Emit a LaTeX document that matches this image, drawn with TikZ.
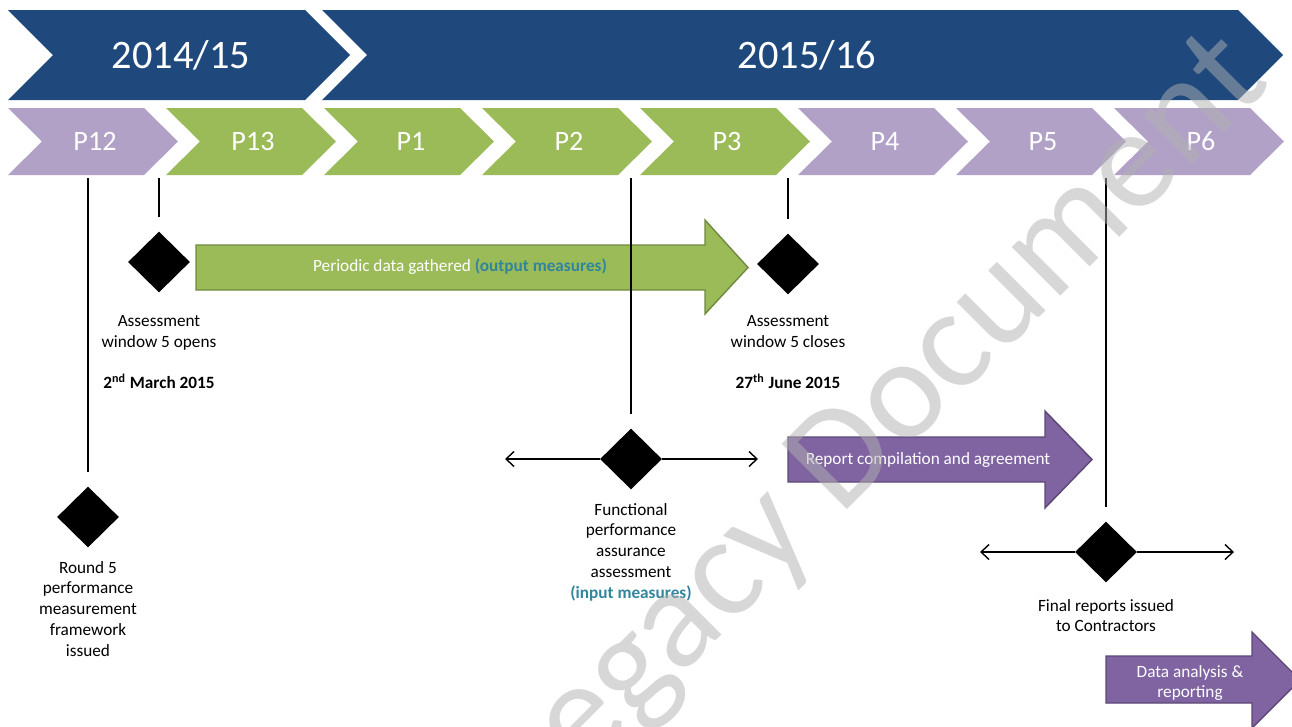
\documentclass[tikz,border=0pt]{standalone}
\usepackage{fontspec}
\setmainfont{Carlito}
\usetikzlibrary{shapes.geometric,arrows.meta,positioning}

\definecolor{yearblue}{RGB}{31,73,125}
\definecolor{lilac}{RGB}{178,161,199}
\definecolor{leaf}{RGB}{155,187,89}
\definecolor{leafdark}{RGB}{113,137,63}
\definecolor{plum}{RGB}{128,100,162}
\definecolor{plumdark}{RGB}{92,71,118}
\definecolor{measureteal}{RGB}{49,133,156}

\tikzset{
  year/.style={text=white, font=\fontsize{23}{28}\selectfont},
  period/.style={text=white, font=\fontsize{16}{19}\selectfont, minimum height=1.34cm},
  milestone/.style={diamond, fill=black, inner sep=0pt, minimum width=1.24cm, minimum height=1.22cm},
  note/.style={align=center, font=\fontsize{9.8}{11.9}\selectfont},
  stem/.style={line width=0.8pt, shorten <=0.06cm, shorten >=0.28cm},
  span/.style={line width=0.8pt, -{Straight Barb[length=0.16cm,width=0.3cm]}},
  block/.style={line width=0.8pt},
}

\begin{document}
\begin{tikzpicture}[x=0.02cm, y=-0.02cm]
  \clip (0,0) rectangle (1292,727);

  % financial years
  \fill[yearblue] (8,10) -- (305,10) -- (350,55) -- (305,100) -- (8,100) -- (53,55) -- cycle;
  \fill[yearblue] (322,10) -- (1238,10) -- (1283,55) -- (1238,100) -- (322,100) -- (367,55) -- cycle;
  \node[year] (y1415) at (181,55) {2014/15};
  \node[year] (y1516) at (807,55) {2015/16};

  % periods
  \foreach \k/\p/\col in {0/12/lilac,1/13/leaf,2/1/leaf,3/2/leaf,4/3/leaf,5/4/lilac,6/5/lilac,7/6/lilac}{
    \pgfmathsetmacro\L{8+158*\k}
    \fill[\col] (\L,108) -- ++(136,0) -- ++(34,33.5) -- ++(-34,33.5) -- ++(-136,0) -- ++(34,-33.5) -- cycle;
    \node[period] (p\p) at (\L+87,141.5) {P\p};
  }

  % block arrows
  \filldraw[block, fill=leaf, draw=leafdark] (196,245) -- (705,245) -- (705,220) -- (748,267.5) -- (705,314) -- (705,290) -- (196,290) -- cycle;
  \node[note, text=white] (gather) at (460,267) {Periodic data gathered \textcolor{measureteal}{\textbf{(output measures)}}};

  \filldraw[block, fill=plum, draw=plumdark] (788,437) -- (1045,437) -- (1045,411) -- (1092,459.5) -- (1045,508) -- (1045,482) -- (788,482) -- cycle;
  \node[note, text=white] (compile) at (928,460) {Report compilation and agreement};

  \filldraw[block, fill=plum, draw=plumdark] (1106,656) -- (1252,656) -- (1252,632) -- (1300,680) -- (1252,728) -- (1252,703) -- (1106,703) -- cycle;
  \node[note, text=white] (analysis) at (1190,683) {Data analysis \&\\reporting};

  % milestones
  \node[milestone] (framework) at (88,517) {};
  \node[milestone] (open) at (159,262) {};
  \node[milestone] (close) at (788,264) {};
  \node[milestone] (assure) at (631,459) {};
  \node[milestone] (final) at (1106,552) {};

  \draw[stem] (framework |- p12.south) -- (framework);
  \draw[stem] (open |- p12.south) -- (open);
  \draw[stem] (assure |- p2.south) -- (assure);
  \draw[stem] (close |- p3.south) -- (close);
  \draw[stem] (final |- p5.south) -- (final);

  \coordinate (assureL) at (505,459);
  \coordinate (assureR) at (758,459);
  \coordinate (finalL) at (980,552);
  \coordinate (finalR) at (1234,552);
  \draw[span] (assure) -- (assureL);
  \draw[span] (assure) -- (assureR);
  \draw[span] (final) -- (finalL);
  \draw[span] (final) -- (finalR);

  % milestone labels
  \node[note, below=0.14cm of framework] (frameworklbl) {Round 5\\performance\\measurement\\framework\\issued};
  \node[note, below=0.32cm of open] (openlbl) {Assessment\\window 5 opens\\[11.9pt]\textbf{2\textsuperscript{nd} March 2015}};
  \node[note, below=0.28cm of close] (closelbl) {Assessment\\window 5 closes\\[11.9pt]\textbf{27\textsuperscript{th} June 2015}};
  \node[note, below=0.14cm of assure] (assurelbl) {Functional\\performance\\assurance\\assessment\\\textcolor{measureteal}{\textbf{(input measures)}}};
  \node[note, below=0.2cm of final] (finallbl) {Final reports issued\\to Contractors};

  % watermark
  \node[rotate=45, text=black!31, text opacity=0.5, font=\fontsize{82}{90}\selectfont] (legacy) at (882,427) {Legacy Document};
\end{tikzpicture}
\end{document}
